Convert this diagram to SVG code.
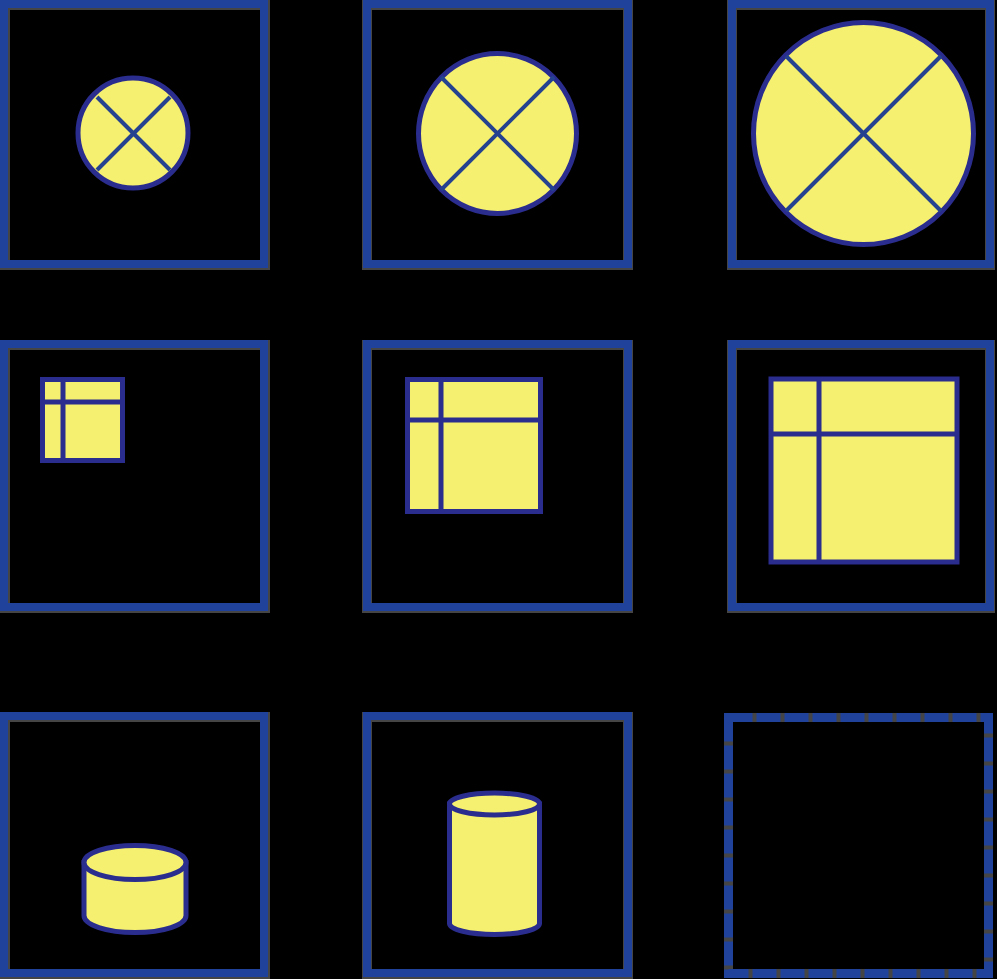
<svg xmlns="http://www.w3.org/2000/svg" width="997" height="979" viewBox="0 0 997 979">
<style>
.halo{fill:none;stroke:#454545;stroke-width:10}
.frame{fill:none;stroke:#21429a;stroke-width:8}
.dhalo{fill:none;stroke:#454545;stroke-width:9}
.dash{fill:none;stroke:#21429a;stroke-width:9;stroke-dasharray:24 4}
.shape{fill:#f5f06f;stroke:#2b2d8e;stroke-width:5}
.line{fill:none;stroke:#24428f;stroke-width:4}
.inner{fill:none;stroke:#2b2d8e;stroke-width:5}
</style>
<rect x="0" y="0" width="997" height="979" fill="#000"/>

<g id="box-r1c1">
<rect class="halo" x="5" y="5" width="260" height="260"/>
<rect class="frame" x="4" y="4" width="260" height="260"/>
<circle class="shape" cx="133" cy="133" r="55"/>
<line class="line" x1="97" y1="97" x2="170" y2="170"/>
<line class="line" x1="170" y1="97" x2="97" y2="170"/>
</g>

<g id="box-r1c2">
<rect class="halo" x="367" y="5" width="261" height="260"/>
<rect class="frame" x="367" y="4" width="261" height="260"/>
<ellipse class="shape" cx="497.5" cy="133.5" rx="79" ry="80"/>
<line class="line" x1="441" y1="77" x2="554" y2="190"/>
<line class="line" x1="554" y1="77" x2="441" y2="190"/>
</g>

<g id="box-r1c3">
<rect class="halo" x="732" y="5" width="258" height="260"/>
<rect class="frame" x="732" y="4" width="258" height="260"/>
<ellipse class="shape" cx="863.5" cy="133.5" rx="110" ry="111"/>
<line class="line" x1="786" y1="56" x2="941" y2="211"/>
<line class="line" x1="941" y1="56" x2="786" y2="211"/>
</g>

<g id="box-r2c1">
<rect class="halo" x="5" y="345" width="260" height="263"/>
<rect class="frame" x="4" y="344" width="260" height="263"/>
<rect class="shape" x="42.5" y="379.5" width="80" height="81"/>
<line class="inner" x1="63" y1="379.5" x2="63" y2="460.5"/>
<line class="inner" x1="42.5" y1="402" x2="122.5" y2="402"/>
</g>

<g id="box-r2c2">
<rect class="halo" x="367" y="345" width="261" height="263"/>
<rect class="frame" x="367" y="344" width="261" height="263"/>
<rect class="shape" x="407.5" y="379.5" width="133" height="132"/>
<line class="inner" x1="441" y1="379.5" x2="441" y2="511.5"/>
<line class="inner" x1="407.5" y1="420" x2="540.5" y2="420"/>
</g>

<g id="box-r2c3">
<rect class="halo" x="732" y="345" width="258" height="263"/>
<rect class="frame" x="732" y="344" width="258" height="263"/>
<rect class="shape" x="771" y="379" width="186" height="183"/>
<line class="inner" x1="819" y1="379" x2="819" y2="562"/>
<line class="inner" x1="771" y1="434" x2="957" y2="434"/>
</g>

<g id="box-r3c1">
<rect class="halo" x="5" y="717" width="260" height="257"/>
<rect class="frame" x="4" y="716" width="260" height="257"/>
<path class="shape" d="M84 862.5 V915.5 A51 17 0 0 0 186 915.5 V862.5 Z"/>
<ellipse class="shape" cx="135" cy="862.5" rx="51" ry="17"/>
</g>

<g id="box-r3c2">
<rect class="halo" x="367" y="717" width="261" height="257"/>
<rect class="frame" x="367" y="716" width="261" height="257"/>
<path class="shape" d="M449.5 804 V923.5 A45 11 0 0 0 539.5 923.5 V804 Z"/>
<ellipse class="shape" cx="494.5" cy="804" rx="45" ry="11"/>
</g>

<g id="box-r3c3">
<rect class="dhalo" x="728.5" y="717.5" width="260" height="256"/>
<rect class="dash" x="728.5" y="717.5" width="260" height="256"/>
</g>

<g id="connectors"></g>
</svg>
